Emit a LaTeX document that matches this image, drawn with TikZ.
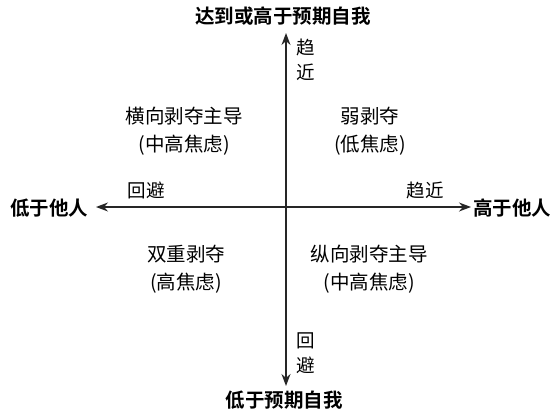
\documentclass[tikz,border=0pt]{standalone}
\usepackage{fontspec}
\setmainfont{Liberation Serif}
\newfontfamily\cjkb{Noto Sans CJK SC Bold}
\newfontfamily\cjkr{Noto Sans CJK SC}
\usetikzlibrary{arrows.meta}
\begin{document}
\begin{tikzpicture}[x=1pt,y=-1pt,
  axis/.style={line width=1.4pt,draw=black!85,-{Stealth[length=12pt,width=9pt]}},
  title/.style={font=\cjkb\fontsize{19.5}{22}\selectfont,inner sep=0pt},
  lab/.style={font=\cjkr\fontsize{18.5}{22}\selectfont,inner sep=0pt},
  vlab/.style={font=\cjkr\fontsize{18.5}{25}\selectfont,inner sep=0pt,align=center},
  quad/.style={font=\cjkr\fontsize{19.5}{28}\selectfont,inner sep=0pt,align=center}]
\useasboundingbox (0,0) rectangle (557,415);
\node[title] (top) at (283,16) {达到或高于预期自我};
\node[title] (bot) at (284,400) {低于预期自我};
\node[title] (left) at (49,208) {低于他人};
\node[title] (right) at (512,208) {高于他人};
\coordinate (c) at (286,207);
\coordinate (tt) at (286,33);
\coordinate (bt) at (286,386);
\coordinate (lt) at (96,207);
\coordinate (rt) at (471,207);
\draw[axis] (c) -- (tt);
\draw[axis] (c) -- (bt);
\draw[axis] (c) -- (lt);
\draw[axis] (c) -- (rt);
\node[vlab] (ua) at (306,60) {趋\\近};
\node[vlab] (da) at (306,353) {回\\避};
\node[lab] (la) at (146,190) {回避};
\node[lab] (ra) at (425,190) {趋近};
\node[quad] (q1) at (184,131) {横向剥夺主导\\({\cjkr 中高焦虑})};
\node[quad] (q2) at (370,131) {弱剥夺\\({\cjkr 低焦虑})};
\node[quad] (q3) at (186,269) {双重剥夺\\({\cjkr 高焦虑})};
\node[quad] (q4) at (369,269) {纵向剥夺主导\\({\cjkr 中高焦虑})};
\end{tikzpicture}
\end{document}
